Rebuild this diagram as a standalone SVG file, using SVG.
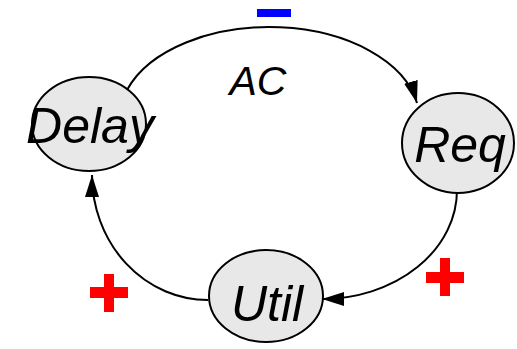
<svg xmlns="http://www.w3.org/2000/svg" width="517" height="349" viewBox="0 0 517 349">
  <style>
    .node ellipse { fill: #e8e8e8; stroke: #000; stroke-width: 2; }
    .node text { font-family: "Liberation Sans", Arial, sans-serif; font-style: italic; font-size: 50px; text-anchor: middle; fill: #000; }
    .link { fill: none; stroke: #000; stroke-width: 2; marker-end: url(#arrow); }
    .label { font-family: "Liberation Sans", Arial, sans-serif; font-style: italic; font-size: 41px; text-anchor: middle; fill: #000; }
    .plus { fill: #ff0000; }
    .minus { fill: #0000ff; }
  </style>
  <defs>
    <marker id="arrow" markerUnits="userSpaceOnUse" markerWidth="24" markerHeight="16" refX="22" refY="8" orient="auto">
      <path d="M0,1 L22,8 L0,15 Z" fill="#000"/>
    </marker>
  </defs>
  <rect width="517" height="349" fill="#fff"/>

  <!-- connectors -->
  <g id="connectors">
    <path class="link" d="M127,90 A150 92 0 0 1 417,103"/>
    <path class="link" d="M457,190 A135 109 0 0 1 322,299"/>
    <path class="link" d="M208,300 A116 125 0 0 1 92,175"/>
  </g>

  <!-- nodes -->
  <g id="delay" class="node">
    <ellipse cx="89" cy="124" rx="57" ry="47"/>
    <text x="90" y="143">Delay</text>
  </g>
  <g id="req" class="node">
    <ellipse cx="458" cy="143" rx="56" ry="50"/>
    <text x="460" y="162">Req</text>
  </g>
  <g id="util" class="node">
    <ellipse cx="266" cy="296" rx="57" ry="46"/>
    <text x="267" y="321">Util</text>
  </g>

  <!-- loop label and polarity signs -->
  <text class="label" x="258" y="95">AC</text>
  <rect class="minus" x="257" y="9" width="34" height="8"/>
  <g class="plus">
    <rect x="90" y="287" width="38" height="11"/>
    <rect x="104" y="274" width="10" height="38"/>
  </g>
  <g class="plus">
    <rect x="426" y="272" width="38" height="11"/>
    <rect x="440" y="258" width="10" height="38"/>
  </g>
</svg>
